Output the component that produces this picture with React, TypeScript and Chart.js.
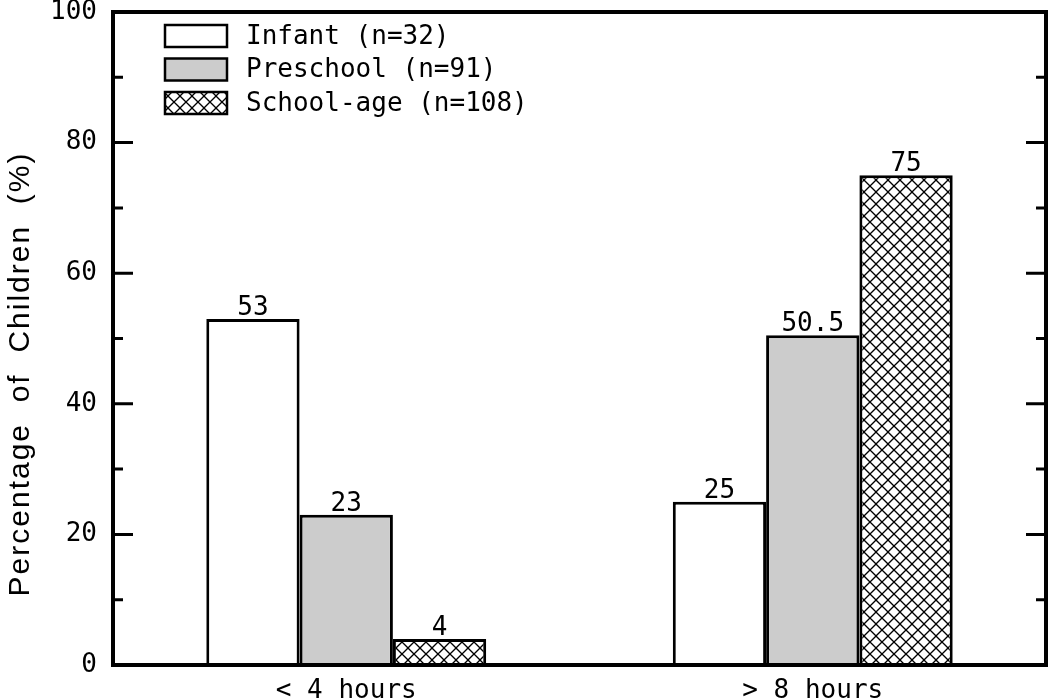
import React, { useEffect, useRef } from 'react';
import { Chart, registerables } from 'chart.js';

Chart.register(...registerables);

const categories = ['< 4 hours', '> 8 hours'];
const seriesNames = ['Infant (n=32)', 'Preschool (n=91)', 'School-age (n=108)'];
const infantValues = [53, 25];
const preschoolValues = [23, 50.5];
const schoolAgeValues = [4, 75];
const yMajorTicks = [0, 20, 40, 60, 80, 100];
const yMinorTicks = [10, 30, 50, 70, 90];
const yTitle = 'Percentage  of  Children  (%)';

const MONO = '"DejaVu Sans Mono", monospace';
const SANS = '"Liberation Sans", Arial, sans-serif';

function makeHatch(): CanvasPattern | string {
  const s = 12;
  const c = document.createElement('canvas');
  c.width = s;
  c.height = s;
  const g = c.getContext('2d');
  if (!g) return '#fff';
  g.fillStyle = '#ffffff';
  g.fillRect(0, 0, s, s);
  g.strokeStyle = '#000000';
  g.lineWidth = 1.3;
  for (const off of [-s, 0, s]) {
    g.beginPath();
    g.moveTo(off, 0);
    g.lineTo(off + s, s);
    g.stroke();
    g.beginPath();
    g.moveTo(off + s, 0);
    g.lineTo(off, s);
    g.stroke();
  }
  const p = g.createPattern(c, 'repeat');
  return p || '#fff';
}

export default function App() {
  const ref = useRef<HTMLCanvasElement | null>(null);

  useEffect(() => {
    const canvas = ref.current;
    if (!canvas) return;
    const hatch = makeHatch();
    const fills: any[] = ['#ffffff', '#cccccc', hatch];

    const framePlugin = {
      id: 'framePlugin',
      afterDatasetsDraw(chart: any) {
        const ctx = chart.ctx;
        const a = chart.chartArea;
        const ys = chart.scales.y;
        ctx.save();
        // value labels
        ctx.fillStyle = '#000';
        ctx.font = `26px ${MONO}`;
        ctx.textAlign = 'center';
        ctx.textBaseline = 'alphabetic';
        chart.data.datasets.forEach((ds: any, di: number) => {
          const meta = chart.getDatasetMeta(di);
          meta.data.forEach((el: any, i: number) => {
            ctx.fillText(String(ds.data[i]), el.x, el.y - 4);
          });
        });
        // frame
        ctx.strokeStyle = '#000';
        ctx.lineWidth = 4;
        ctx.strokeRect(a.left, a.top, a.right - a.left, a.bottom - a.top);
        // ticks
        ctx.lineWidth = 3;
        const drawTick = (v: number, len: number) => {
          const y = ys.getPixelForValue(v);
          ctx.beginPath();
          ctx.moveTo(a.left, y);
          ctx.lineTo(a.left + len, y);
          ctx.moveTo(a.right, y);
          ctx.lineTo(a.right - len, y);
          ctx.stroke();
        };
        yMajorTicks.forEach((v) => drawTick(v, 20));
        yMinorTicks.forEach((v) => drawTick(v, 10));
        // legend
        const boxX = 165;
        const boxW = 62;
        const boxH = 22;
        const rowCenters = [36, 69.5, 103];
        seriesNames.forEach((name, i) => {
          const cy = rowCenters[i];
          ctx.fillStyle = fills[i];
          ctx.fillRect(boxX, cy - boxH / 2, boxW, boxH);
          ctx.lineWidth = 2.5;
          ctx.strokeRect(boxX, cy - boxH / 2, boxW, boxH);
          ctx.fillStyle = '#000';
          ctx.font = `26px ${MONO}`;
          ctx.textAlign = 'left';
          ctx.textBaseline = 'middle';
          ctx.fillText(name, 246, cy + 1);
        });
        // y title
        ctx.translate(21, 374);
        ctx.rotate(-Math.PI / 2);
        ctx.font = `30px ${SANS}`;
        (ctx as any).letterSpacing = '2px';
        ctx.textAlign = 'center';
        ctx.textBaseline = 'middle';
        ctx.fillStyle = '#000';
        ctx.fillText(yTitle, 0, 0);
        ctx.restore();
      },
    };

    const chart = new Chart(canvas, {
      type: 'bar',
      data: {
        labels: categories,
        datasets: [
          { label: seriesNames[0], data: infantValues, backgroundColor: fills[0] },
          { label: seriesNames[1], data: preschoolValues, backgroundColor: fills[1] },
          { label: seriesNames[2], data: schoolAgeValues, backgroundColor: fills[2] },
        ].map((d) => ({
          ...d,
          borderColor: '#000',
          borderWidth: 3,
          categoryPercentage: 0.6,
          barPercentage: 1.0,
        })),
      },
      options: {
        responsive: false,
        animation: false,
        layout: { padding: { top: 12, right: 4, left: 0, bottom: 0 } },
        plugins: {
          legend: { display: false },
          tooltip: { enabled: false },
          title: { display: false },
        },
        scales: {
          x: {
            grid: { display: false, drawTicks: false },
            border: { display: false },
            ticks: { color: '#000', font: { family: MONO, size: 26 }, padding: 11 },
            afterFit: (s: any) => {
              s.height = 35;
              s.paddingLeft = 0;
              s.paddingRight = 0;
            },
          },
          y: {
            min: 0,
            max: 100,
            grid: { display: false, drawTicks: false },
            border: { display: false },
            ticks: {
              stepSize: 20,
              color: '#000',
              font: { family: MONO, size: 26 },
              padding: 16,
            },
            afterFit: (s: any) => {
              s.width = 113;
              s.paddingTop = 0;
              s.paddingBottom = 0;
            },
          },
        },
      } as any,
      plugins: [framePlugin],
    });
    return () => chart.destroy();
  }, []);

  return (
    <div style={{ position: 'absolute', left: 0, top: 0, width: 1050, height: 700, background: '#fff' }}>
      <canvas ref={ref} width={1050} height={700} />
    </div>
  );
}
